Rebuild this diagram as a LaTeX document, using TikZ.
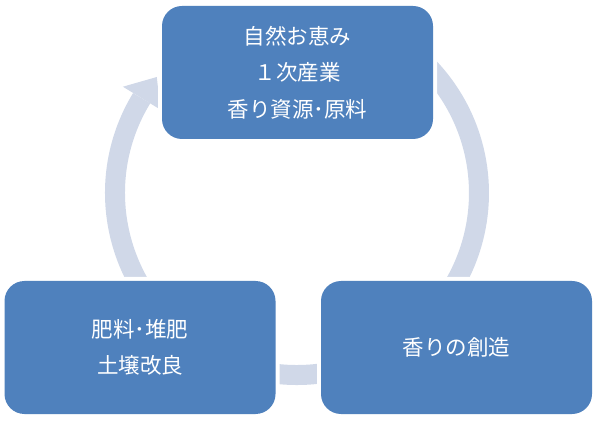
\documentclass[tikz,border=0pt]{standalone}
\usepackage{fontspec}
\newfontfamily\jpfont{Noto Sans CJK JP}
\definecolor{boxblue}{RGB}{79,129,189}
\definecolor{ringblue}{RGB}{208,216,232}
\tikzset{
  cyclebox/.style={preaction={draw=white,line width=8pt},fill=boxblue,
    rounded corners=20pt,minimum width=271pt,minimum height=133pt,
    align=center,text=white,font=\jpfont\fontsize{21.5}{36.5}\selectfont},
  ring/.style={draw=ringblue,line width=20pt}
}
\begin{document}
\begin{tikzpicture}[x=1pt,y=1pt]
 \useasboundingbox (0,0) rectangle (596,420);
 \coordinate (c) at (297,227);
 \draw [ring] ([shift={(148.6:182)}]c) arc [start angle=148.6,end angle=420,radius=182];
 \fill [ringblue,shift={(c)}] (148.6:160) -- (148.6:204) -- (140.4:182) -- cycle;
 \node [cyclebox] (nature) at (297.5,347.5) {自然お恵み\\１次産業\\香り資源･原料};
 \node [cyclebox] (create) at (456.5,72.5) {香りの創造};
 \node [cyclebox] (soil) at (140,72.5) {肥料･堆肥\\土壌改良};
\end{tikzpicture}
\end{document}
